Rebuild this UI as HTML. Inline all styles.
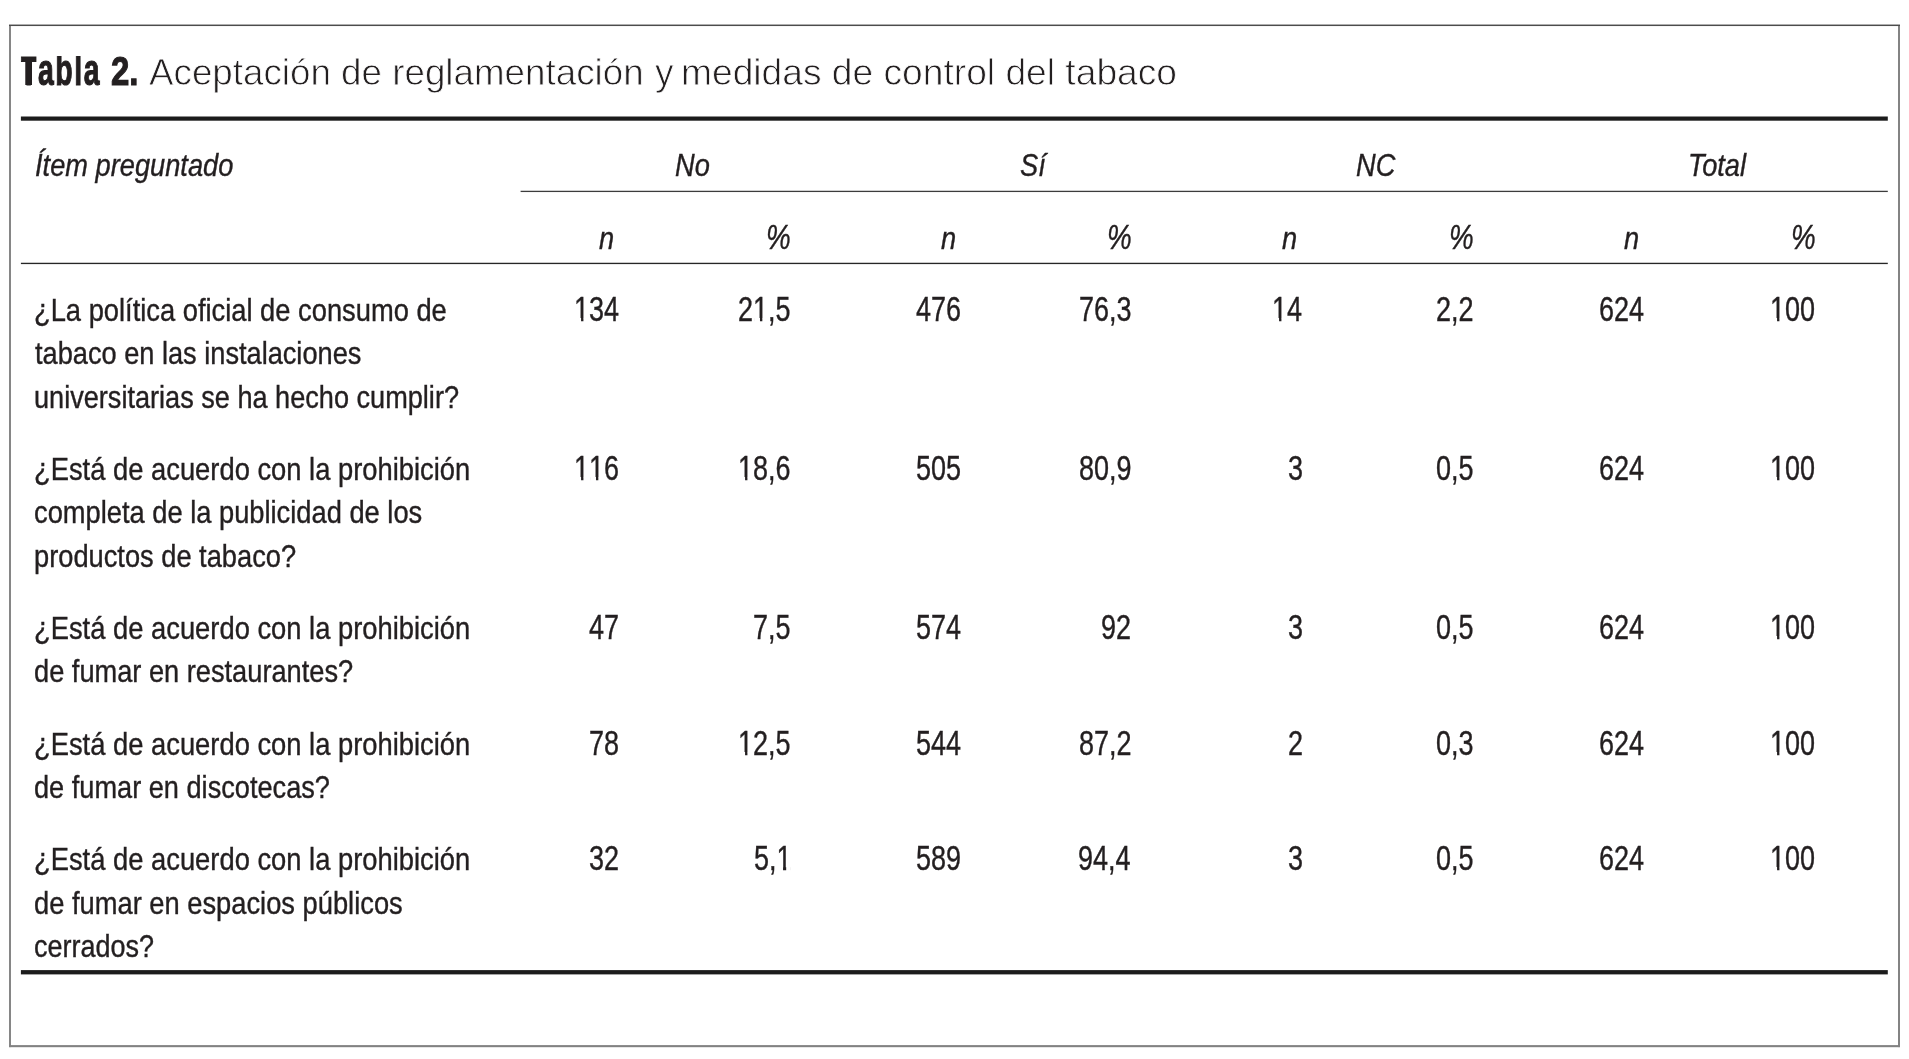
<!DOCTYPE html>
<html lang="es">
<head>
<meta charset="utf-8">
<title>Tabla 2</title>
<style>

html,body{margin:0;padding:0;background:#fff;}
body{width:1909px;height:1059px;position:relative;overflow:hidden;font-family:"Liberation Sans",sans-serif;color:#231f20;}
.page{position:absolute;left:0;top:0;width:1909px;height:1059px;will-change:transform;}
.lines{position:absolute;left:0;top:0;display:block;}
.t{position:absolute;white-space:nowrap;transform-origin:0 0;line-height:40px;height:40px;margin:0;padding:0;}
.tb{font-weight:bold;-webkit-text-stroke:1.1px #231f20;}
.tl{-webkit-text-stroke:0.8px #fff;}
.b,.n,.hi{-webkit-text-stroke:0.4px #231f20;}
.hi{font-style:italic;}
.n{font-kerning:none;}
.m{position:absolute;background:#fff;display:block;}
.stem{position:absolute;background:#231f20;display:block;}

</style>
</head>
<body>
<div class="page">
<svg class="lines" width="1909" height="1059" viewBox="0 0 1909 1059">
<rect x="9" y="25.3" width="2" height="1021.8" fill="#868686"/>
<rect x="1898" y="25.3" width="2" height="1021.8" fill="#838383"/>
<rect x="9" y="1045.1" width="1891" height="2.1" fill="#828282"/>
<rect x="9" y="24.55" width="1891" height="1.5" fill="#4c4c4c"/>
<rect x="20.9" y="116.5" width="1866.9" height="4.2" fill="#1c1c1c"/>
<rect x="520.6" y="190.75" width="1367.2" height="1.3" fill="#3c3c3c"/>
<rect x="20.9" y="262.75" width="1866.9" height="1.35" fill="#262626"/>
<rect x="20.9" y="970.1" width="1866.9" height="4.3" fill="#1c1c1c"/>
</svg>
<div class="t tb" style="left:21.34px;top:51.02px;font-size:41.0px;transform:scaleX(0.6111)">T<i class="stem" style="left:7.14px;width:10.96px;top:5.88px;height:28.30px"></i></div>
<div class="t tb" style="left:37.76px;top:50.02px;font-size:43.6px;transform:scaleX(0.6512);letter-spacing:2.4px;clip-path:inset(5.88px -5px -5px -5px)">abla</div>
<div class="t tb" style="left:111.44px;top:51.02px;font-size:41.0px;transform:scaleX(0.8056)">2.</div>
<div class="t tl" style="left:149.30px;top:52.52px;font-size:36.8px;transform:scaleX(0.9991)">Aceptación de reglamentación</div>
<div class="t tl" style="left:655.00px;top:52.52px;font-size:36.8px;transform:scaleX(1.0050)">y</div>
<div class="t tl" style="left:681.38px;top:52.52px;font-size:36.8px;transform:scaleX(1.0103)">medidas de control del tabaco</div>
<div class="t hi" style="left:34.55px;top:145.02px;font-size:32.0px;transform:scaleX(0.8510)">Ítem preguntado</div>
<div class="t b" style="left:33.99px;top:290.02px;font-size:32.0px;transform:scaleX(0.8532)">¿La política oficial de consumo de</div>
<div class="t b" style="left:35.00px;top:333.02px;font-size:32.0px;transform:scaleX(0.8493)">tabaco en las instalaciones</div>
<div class="t b" style="left:33.61px;top:377.02px;font-size:32.0px;transform:scaleX(0.8473)">universitarias se ha hecho cumplir?</div>
<div class="t b" style="left:33.99px;top:449.02px;font-size:32.0px;transform:scaleX(0.8545)">¿Está de acuerdo con la prohibición</div>
<div class="t b" style="left:34.15px;top:492.02px;font-size:32.0px;transform:scaleX(0.8524)">completa de la publicidad de los</div>
<div class="t b" style="left:33.60px;top:536.02px;font-size:32.0px;transform:scaleX(0.8515)">productos de tabaco?</div>
<div class="t b" style="left:33.99px;top:608.02px;font-size:32.0px;transform:scaleX(0.8545)">¿Está de acuerdo con la prohibición</div>
<div class="t b" style="left:34.15px;top:651.02px;font-size:32.0px;transform:scaleX(0.8503)">de fumar en restaurantes?</div>
<div class="t b" style="left:33.99px;top:724.02px;font-size:32.0px;transform:scaleX(0.8545)">¿Está de acuerdo con la prohibición</div>
<div class="t b" style="left:34.15px;top:767.02px;font-size:32.0px;transform:scaleX(0.8488)">de fumar en discotecas?</div>
<div class="t b" style="left:33.99px;top:839.02px;font-size:32.0px;transform:scaleX(0.8545)">¿Está de acuerdo con la prohibición</div>
<div class="t b" style="left:34.15px;top:883.02px;font-size:32.0px;transform:scaleX(0.8530)">de fumar en espacios públicos</div>
<div class="t b" style="left:34.16px;top:926.02px;font-size:32.0px;transform:scaleX(0.8427)">cerrados?</div>
<div class="t hi" style="left:675.43px;top:145.02px;font-size:32.0px;transform:scaleX(0.8510)">No</div>
<div class="t hi" style="left:1020.41px;top:145.02px;font-size:32.0px;transform:scaleX(0.8510)">Sí</div>
<div class="t hi" style="left:1355.75px;top:145.02px;font-size:32.0px;transform:scaleX(0.8510)">NC</div>
<div class="t hi" style="left:1688.45px;top:145.02px;font-size:32.0px;transform:scaleX(0.8510)">Total</div>
<div class="t hi" style="left:598.97px;top:218.02px;font-size:32.0px;transform:scaleX(0.8510)">n</div>
<div class="t hi" style="left:941.07px;top:218.02px;font-size:32.0px;transform:scaleX(0.8510)">n</div>
<div class="t hi" style="left:1282.27px;top:218.02px;font-size:32.0px;transform:scaleX(0.8510)">n</div>
<div class="t hi" style="left:1623.97px;top:218.02px;font-size:32.0px;transform:scaleX(0.8510)">n</div>
<div class="t hi" style="left:766.08px;top:217.02px;font-size:34.4px;transform:scaleX(0.8075)">%</div>
<div class="t hi" style="left:1107.38px;top:217.02px;font-size:34.4px;transform:scaleX(0.8075)">%</div>
<div class="t hi" style="left:1449.28px;top:217.02px;font-size:34.4px;transform:scaleX(0.8075)">%</div>
<div class="t hi" style="left:1791.28px;top:217.02px;font-size:34.4px;transform:scaleX(0.8075)">%</div>
<div class="t n" style="left:573.56px;top:289.02px;font-size:34.4px;transform:scaleX(0.7850)">134<i class="m" style="left:1.38px;top:28.73px;width:7.15px;height:4.27px"></i><i class="m" style="left:11.82px;top:28.73px;width:6.93px;height:4.27px"></i></div>
<div class="t n" style="left:737.84px;top:289.02px;font-size:34.4px;transform:scaleX(0.7850)">21,5<i class="m" style="left:20.51px;top:28.73px;width:7.15px;height:4.27px"></i><i class="m" style="left:30.95px;top:28.73px;width:6.93px;height:4.27px"></i></div>
<div class="t n" style="left:916.34px;top:289.02px;font-size:34.4px;transform:scaleX(0.7850)">476</div>
<div class="t n" style="left:1078.84px;top:289.02px;font-size:34.4px;transform:scaleX(0.7850)">76,3</div>
<div class="t n" style="left:1271.87px;top:289.02px;font-size:34.4px;transform:scaleX(0.7850)">14<i class="m" style="left:1.38px;top:28.73px;width:7.15px;height:4.27px"></i><i class="m" style="left:11.82px;top:28.73px;width:6.93px;height:4.27px"></i></div>
<div class="t n" style="left:1435.86px;top:289.02px;font-size:34.4px;transform:scaleX(0.7850)">2,2</div>
<div class="t n" style="left:1598.56px;top:289.02px;font-size:34.4px;transform:scaleX(0.7850)">624</div>
<div class="t n" style="left:1770.44px;top:289.02px;font-size:34.4px;transform:scaleX(0.7850)">100<i class="m" style="left:1.38px;top:28.73px;width:7.15px;height:4.27px"></i><i class="m" style="left:11.82px;top:28.73px;width:6.93px;height:4.27px"></i></div>
<div class="t n" style="left:574.34px;top:448.02px;font-size:34.4px;transform:scaleX(0.7850)">116<i class="m" style="left:1.38px;top:28.73px;width:7.15px;height:4.27px"></i><i class="m" style="left:11.82px;top:28.73px;width:6.93px;height:4.27px"></i><i class="m" style="left:20.51px;top:28.73px;width:7.15px;height:4.27px"></i><i class="m" style="left:30.95px;top:28.73px;width:6.93px;height:4.27px"></i></div>
<div class="t n" style="left:737.84px;top:448.02px;font-size:34.4px;transform:scaleX(0.7850)">18,6<i class="m" style="left:1.38px;top:28.73px;width:7.15px;height:4.27px"></i><i class="m" style="left:11.82px;top:28.73px;width:6.93px;height:4.27px"></i></div>
<div class="t n" style="left:916.34px;top:448.02px;font-size:34.4px;transform:scaleX(0.7850)">505</div>
<div class="t n" style="left:1078.84px;top:448.02px;font-size:34.4px;transform:scaleX(0.7850)">80,9</div>
<div class="t n" style="left:1287.67px;top:448.02px;font-size:34.4px;transform:scaleX(0.7850)">3</div>
<div class="t n" style="left:1435.86px;top:448.02px;font-size:34.4px;transform:scaleX(0.7850)">0,5</div>
<div class="t n" style="left:1598.56px;top:448.02px;font-size:34.4px;transform:scaleX(0.7850)">624</div>
<div class="t n" style="left:1770.44px;top:448.02px;font-size:34.4px;transform:scaleX(0.7850)">100<i class="m" style="left:1.38px;top:28.73px;width:7.15px;height:4.27px"></i><i class="m" style="left:11.82px;top:28.73px;width:6.93px;height:4.27px"></i></div>
<div class="t n" style="left:589.36px;top:607.02px;font-size:34.4px;transform:scaleX(0.7850)">47</div>
<div class="t n" style="left:752.86px;top:607.02px;font-size:34.4px;transform:scaleX(0.7850)">7,5</div>
<div class="t n" style="left:915.56px;top:607.02px;font-size:34.4px;transform:scaleX(0.7850)">574</div>
<div class="t n" style="left:1101.36px;top:607.02px;font-size:34.4px;transform:scaleX(0.7850)">92</div>
<div class="t n" style="left:1287.67px;top:607.02px;font-size:34.4px;transform:scaleX(0.7850)">3</div>
<div class="t n" style="left:1435.86px;top:607.02px;font-size:34.4px;transform:scaleX(0.7850)">0,5</div>
<div class="t n" style="left:1598.56px;top:607.02px;font-size:34.4px;transform:scaleX(0.7850)">624</div>
<div class="t n" style="left:1770.44px;top:607.02px;font-size:34.4px;transform:scaleX(0.7850)">100<i class="m" style="left:1.38px;top:28.73px;width:7.15px;height:4.27px"></i><i class="m" style="left:11.82px;top:28.73px;width:6.93px;height:4.27px"></i></div>
<div class="t n" style="left:589.36px;top:723.02px;font-size:34.4px;transform:scaleX(0.7850)">78</div>
<div class="t n" style="left:737.84px;top:723.02px;font-size:34.4px;transform:scaleX(0.7850)">12,5<i class="m" style="left:1.38px;top:28.73px;width:7.15px;height:4.27px"></i><i class="m" style="left:11.82px;top:28.73px;width:6.93px;height:4.27px"></i></div>
<div class="t n" style="left:915.56px;top:723.02px;font-size:34.4px;transform:scaleX(0.7850)">544</div>
<div class="t n" style="left:1078.84px;top:723.02px;font-size:34.4px;transform:scaleX(0.7850)">87,2</div>
<div class="t n" style="left:1287.67px;top:723.02px;font-size:34.4px;transform:scaleX(0.7850)">2</div>
<div class="t n" style="left:1435.86px;top:723.02px;font-size:34.4px;transform:scaleX(0.7850)">0,3</div>
<div class="t n" style="left:1598.56px;top:723.02px;font-size:34.4px;transform:scaleX(0.7850)">624</div>
<div class="t n" style="left:1770.44px;top:723.02px;font-size:34.4px;transform:scaleX(0.7850)">100<i class="m" style="left:1.38px;top:28.73px;width:7.15px;height:4.27px"></i><i class="m" style="left:11.82px;top:28.73px;width:6.93px;height:4.27px"></i></div>
<div class="t n" style="left:589.36px;top:838.02px;font-size:34.4px;transform:scaleX(0.7850)">32</div>
<div class="t n" style="left:754.07px;top:838.02px;font-size:34.4px;transform:scaleX(0.7850)">5,1<i class="m" style="left:30.06px;top:28.73px;width:7.15px;height:4.27px"></i><i class="m" style="left:40.51px;top:28.73px;width:6.93px;height:4.27px"></i></div>
<div class="t n" style="left:916.34px;top:838.02px;font-size:34.4px;transform:scaleX(0.7850)">589</div>
<div class="t n" style="left:1078.06px;top:838.02px;font-size:34.4px;transform:scaleX(0.7850)">94,4</div>
<div class="t n" style="left:1287.67px;top:838.02px;font-size:34.4px;transform:scaleX(0.7850)">3</div>
<div class="t n" style="left:1435.86px;top:838.02px;font-size:34.4px;transform:scaleX(0.7850)">0,5</div>
<div class="t n" style="left:1598.56px;top:838.02px;font-size:34.4px;transform:scaleX(0.7850)">624</div>
<div class="t n" style="left:1770.44px;top:838.02px;font-size:34.4px;transform:scaleX(0.7850)">100<i class="m" style="left:1.38px;top:28.73px;width:7.15px;height:4.27px"></i><i class="m" style="left:11.82px;top:28.73px;width:6.93px;height:4.27px"></i></div>
</div>
</body>
</html>
